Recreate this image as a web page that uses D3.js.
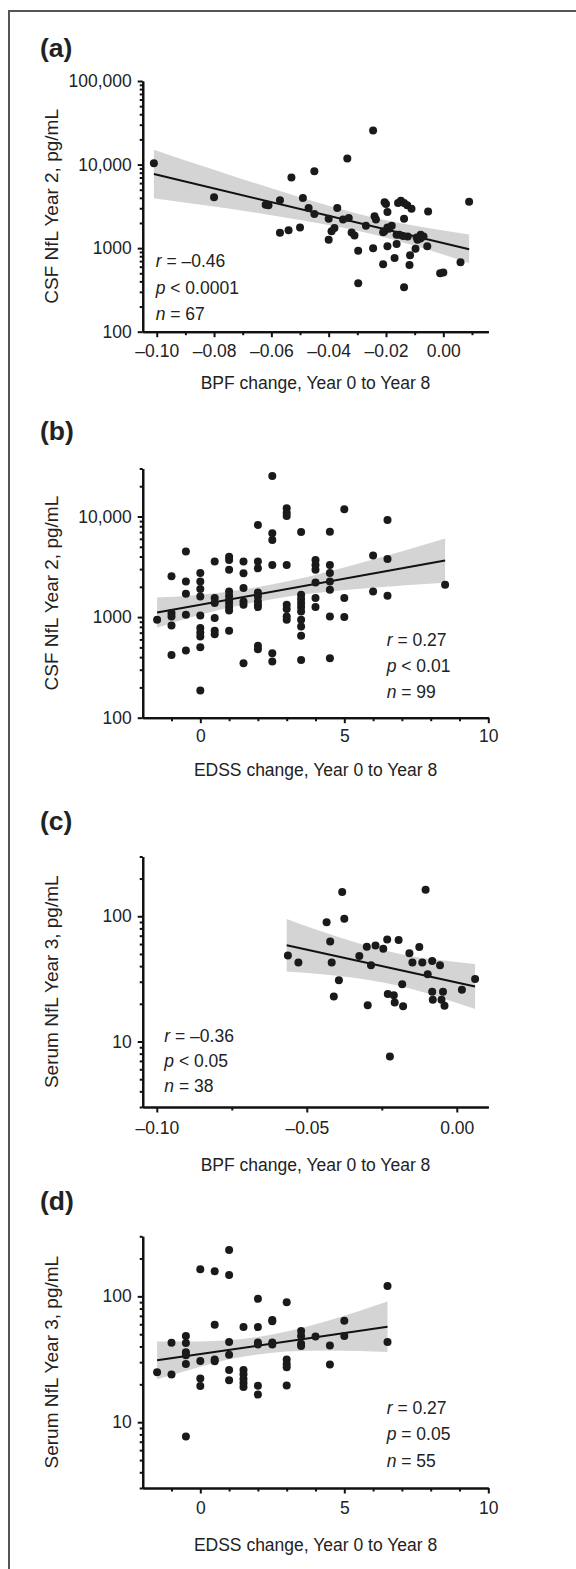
<!DOCTYPE html>
<html><head><meta charset="utf-8">
<script src="https://cdn.jsdelivr.net/npm/d3@7"></script>
<style>
body{margin:0;background:#fff}
svg{display:block}
text{font-family:'Liberation Sans',Arial,Helvetica,sans-serif;fill:#222}
</style>
</head><body>
<svg id="chart" width="576" height="1569"></svg>
<script>
// ---------- Panel (a): BPF change vs CSF NfL Year 2 ----------
const aBPF = [-0.101,-0.080,-0.062,-0.061,-0.057,-0.057,-0.054,-0.053,-0.050,-0.049,-0.047,-0.045,-0.045,-0.040,-0.039,-0.038,-0.040,-0.037,-0.0335,-0.035,-0.033,-0.032,-0.031,-0.0297,-0.0297,-0.027,-0.0245,-0.0245,-0.024,-0.0235,-0.021,-0.0205,-0.020,-0.0195,-0.0206,-0.0195,-0.019,-0.0195,-0.017,-0.0163,-0.0163,-0.0153,-0.0158,-0.0148,-0.0137,-0.0126,-0.0111,-0.0137,-0.0137,-0.0124,-0.0116,-0.0118,-0.0097,-0.0093,-0.0079,-0.0069,-0.0090,-0.0056,-0.0053,-0.0011,0.000,0.006,0.009,-0.021,-0.008,-0.014,-0.018];
const aNfL = [10400,4050,3300,3250,3750,1530,1640,7000,1770,3980,3020,8300,2560,1260,1590,1740,2250,3020,11800,2200,2290,1540,1420,930,380,1850,25600,1000,2400,2200,640,3530,3370,2700,1590,1770,1710,1050,760,1120,1450,1450,3470,3700,3470,3250,2970,2250,340,1380,820,630,980,1340,1450,1380,1260,1050,2750,500,510,680,3600,1550,1300,1400,1850];
const aFitX = [-0.101, 0.009];
const aFitY = [7700, 970];
const aBandX = [-0.101,-0.08,-0.06,-0.04,-0.025,-0.01,0.009];
const aBandHi = [15070,8650,5190,3210,2340,1850,1455];
const aBandLo = [3960,3140,2480,1890,1480,1070,665];
const aXTicks = [-0.10,-0.08,-0.06,-0.04,-0.02,0.00];
const aXTickLabels = ["\u20130.10","\u20130.08","\u20130.06","\u20130.04","\u20130.02","0.00"];
const aXMinor = [-0.09,-0.07,-0.05,-0.03,-0.01,0.01];
const aYTicks = [100,1000,10000,100000];
const aYTickLabels = ["100","1000","10,000","100,000"];
const aStats = [["r"," = \u20130.46"],["p"," < 0.0001"],["n"," = 67"]];

// ---------- Panel (b): EDSS change vs CSF NfL Year 2 ----------
const bEDSS = [-1.5,
 -1,-1,-1,-1,-1,
 -0.5,-0.5,-0.5,-0.5,-0.5,
 0,0,0,0,0,0,0,0,0,0,
 0.5,0.5,0.5,0.5,0.5,0.5,
 1,1,1,1,1,1,1,1,1,1,
 1.5,1.5,1.5,1.5,1.5,1.5,
 2,2,2,2,2,2,2,2,2,2,
 2.5,2.5,2.5,2.5,2.5,2.5,
 3,3,3,3,3,3,3,3,
 3.5,3.5,3.5,3.5,3.5,3.5,3.5,3.5,3.5,3.5,
 4,4,4,4,4,4,
 4.5,4.5,4.5,4.5,4.5,4.5,4.5,
 5,5,5,
 6,6,
 6.5,6.5,6.5,
 8.5];
const bNfL = [940,
 2540,1096,1014,825,421,
 4480,2260,1705,1054,466,
 2740,2260,1900,1605,1038,777,703,641,502,186,
 3565,1546,1378,977,730,677,
 3990,3700,2950,1800,1630,1487,1378,1258,1163,730,
 3565,2735,1950,1430,1326,348,
 8240,3565,3060,1760,1605,1430,1326,1258,518,480,
 25200,6810,5850,3300,438,361,
 12060,10900,10100,3300,1326,1201,1014,940,
 7020,1667,1511,1378,1258,1137,940,806,652,375,
 3700,3300,2950,2210,1546,1258,
 7060,3300,2740,2260,1870,1014,390,
 11800,1546,1000,
 4090,1800,
 9240,3780,1630,
 2100];
const bFitX = [-1.5, 8.5];
const bFitY = [1110, 3650];
const bBandX = [-1.5,0,1.5,3,4.5,6,8.5];
const bBandHi = [1567,1671,1884,2254,2851,3741,6053];
const bBandLo = [785,1054,1334,1596,1799,1963,2198];
const bXTicks = [0,5,10];
const bXTickLabels = ["0","5","10"];
const bXMinor = [-1,1,2,3,4,6,7,8,9];
const bYTicks = [100,1000,10000];
const bYTickLabels = ["100","1000","10,000"];
const bStats = [["r"," = 0.27"],["p"," < 0.01"],["n"," = 99"]];

// ---------- Panel (c): BPF change vs Serum NfL Year 3 ----------
const cBPF = [-0.0563,-0.0528,-0.0434,-0.0382,-0.0375,-0.0422,-0.0417,-0.0393,-0.041,-0.0325,-0.030,-0.0286,-0.0297,-0.0271,-0.0245,-0.0232,-0.023,-0.021,-0.0207,-0.0223,-0.0194,-0.0182,-0.0179,-0.0158,-0.0148,-0.0125,-0.0115,-0.0104,-0.0097,-0.0082,-0.0056,-0.0082,-0.008,-0.0046,-0.0051,-0.0041,0.0017,0.0061];
const cNfL = [48.7,42.7,89.6,156,95.7,63,42.7,30.8,22.9,48.2,57.1,40.6,19.5,58.5,55,65.3,23.9,23.4,20.5,7.6,64.6,28.7,19.1,50.6,42.7,56.8,42.7,163,34.4,44,40.6,25,21.5,25,21.5,19.3,25.9,31.5];
const cFitX = [-0.0567, 0.0061];
const cFitY = [58.7, 27.5];
const cBandX = [-0.0567,-0.045,-0.035,-0.025,-0.015,-0.005,0.0061];
const cBandHi = [95.3,75.5,63.1,54.1,47.9,44.5,41.6];
const cBandLo = [36.2,34.5,32.4,29.7,26.3,22.3,18.2];
const cXTicks = [-0.10,-0.05,0.00];
const cXTickLabels = ["\u20130.10","\u20130.05","0.00"];
const cXMinor = [-0.075,-0.025];
const cYTicks = [10,100];
const cYTickLabels = ["10","100"];
const cStats = [["r"," = \u20130.36"],["p"," < 0.05"],["n"," = 38"]];

// ---------- Panel (d): EDSS change vs Serum NfL Year 3 ----------
const dEDSS = [-1.5,
 -1,-1,
 -0.5,-0.5,-0.5,-0.5,-0.5,-0.5,
 0,0,0,0,
 0.5,0.5,0.5,0.5,
 1,1,1,1,1,1,
 1.5,1.5,1.5,1.5,1.5,1.5,
 2,2,2,2,2,2,
 2.5,2.5,2.5,2.5,
 3,3,3,3,3,
 3.5,3.5,3.5,3.5,
 4,
 4.5,4.5,
 5,5,
 6.5,6.5];
const dNfL = [24.9,
 42.7,23.9,
 48.3,42.5,36,34,29,7.7,
 164,30.6,22.2,19.4,
 158,59.5,31.5,30.5,
 234,148,43.3,34.4,26,21.5,
 57,26,24,22,20.5,19,
 95.5,57,43,41.5,19.5,16.6,
 65,63.3,43,41.5,
 89.6,31.5,29,27.3,19.6,
 53,48.3,42,40.3,
 48,
 40.6,28.8,
 64,48.3,
 121,43.3];
const dFitX = [-1.5, 6.5];
const dFitY = [31, 57.3];
const dBandX = [-1.5,0,1,2,3,4.5,6.5];
const dBandHi = [43.8,43.8,44.7,47.6,52.6,64.7,90.8];
const dBandLo = [21.9,27.6,31.6,34.5,36.4,37.2,36.1];
const dXTicks = [0,5,10];
const dXTickLabels = ["0","5","10"];
const dXMinor = [-1,1,2,3,4,6,7,8,9];
const dYTicks = [10,100];
const dYTickLabels = ["10","100"];
const dStats = [["r"," = 0.27"],["p"," = 0.05"],["n"," = 55"]];

const csfTitle = "CSF NfL Year 2, pg/mL";
const serumTitle = "Serum NfL Year 3, pg/mL";
const bpfTitle = "BPF change, Year 0 to Year 8";
const edssTitle = "EDSS change, Year 0 to Year 8";

// ---------- layout ----------
const svg = d3.select("#chart");
const AX_L = 142.7, AX_R = 488.3;

// outer frame (open on right and bottom)
svg.append("path").attr("d","M9,1575 V11 H590").attr("fill","none").attr("stroke","#555").attr("stroke-width",2);

const panels = [
 {label:"(a)", labelY:57, xs:aBPF, ys:aNfL, fitX:aFitX, fitY:aFitY, bandX:aBandX, bandHi:aBandHi, bandLo:aBandLo,
  xDomain:[-0.1049,0.0157], yDomain:[100,100000], yRange:[331.7,81],
  xTicks:aXTicks, xLabels:aXTickLabels, xMinor:aXMinor, yTicks:aYTicks, yLabels:aYTickLabels,
  xPad:13, xTitle:bpfTitle, xTitleY:389, yTitle:csfTitle, stats:aStats, statsX:155.7, statsY:[266.5,294,320]},
 {label:"(b)", labelY:440, xs:bEDSS, ys:bNfL, fitX:bFitX, fitY:bFitY, bandX:bBandX, bandHi:bBandHi, bandLo:bBandLo,
  xDomain:[-2,10], yDomain:[100,30000], yRange:[717.7,468.5],
  xTicks:bXTicks, xLabels:bXTickLabels, xMinor:bXMinor, yTicks:bYTicks, yLabels:bYTickLabels,
  xPad:12, xTitle:edssTitle, xTitleY:776, yTitle:csfTitle, stats:bStats, statsX:386.7, statsY:[646,672,698.3]},
 {label:"(c)", labelY:830, xs:cBPF, ys:cNfL, fitX:cFitX, fitY:cFitY, bandX:cBandX, bandHi:cBandHi, bandLo:cBandLo,
  xDomain:[-0.1047,0.0105], yDomain:[3,300], yRange:[1107,856.5],
  xTicks:cXTicks, xLabels:cXTickLabels, xMinor:cXMinor, yTicks:cYTicks, yLabels:cYTickLabels,
  xPad:15, xTitle:bpfTitle, xTitleY:1170.5, yTitle:serumTitle, stats:cStats, statsX:164.3, statsY:[1041.7,1067.3,1092.3]},
 {label:"(d)", labelY:1210, xs:dEDSS, ys:dNfL, fitX:dFitX, fitY:dFitY, bandX:dBandX, bandHi:dBandHi, bandLo:dBandLo,
  xDomain:[-2,10], yDomain:[3,300], yRange:[1488,1236.3],
  xTicks:dXTicks, xLabels:dXTickLabels, xMinor:dXMinor, yTicks:dYTicks, yLabels:dYTickLabels,
  xPad:14, xTitle:edssTitle, xTitleY:1551, yTitle:serumTitle, stats:dStats, statsX:386.7, statsY:[1414,1440,1466.7]}
];

function styleAxis(sel){
  sel.select("path.domain").attr("stroke","#111").attr("stroke-width",2.2);
  sel.selectAll(".tick line").attr("stroke","#111").attr("stroke-width",2);
  sel.selectAll(".tick text").attr("font-size","17.5px").attr("fill","#222")
     .attr("font-family","'Liberation Sans',Arial,sans-serif");
}

panels.forEach(p => {
  const g = svg.append("g");
  const x = d3.scaleLinear().domain(p.xDomain).range([AX_L, AX_R]);
  const y = d3.scaleLog().domain(p.yDomain).range(p.yRange);

  // confidence band
  const area = d3.area().x(d => x(d[0])).y0(d => y(d[1])).y1(d => y(d[2])).curve(d3.curveMonotoneX);
  g.append("path").datum(d3.zip(p.bandX, p.bandLo, p.bandHi)).attr("d", area).attr("fill", "#d4d4d4");

  // regression line
  const line = d3.line().x(d => x(d[0])).y(d => y(d[1]));
  g.append("path").datum(d3.zip(p.fitX, p.fitY)).attr("d", line)
    .attr("fill","none").attr("stroke","#111").attr("stroke-width",2);

  // points
  g.append("g").selectAll("circle").data(d3.zip(p.xs, p.ys)).join("circle")
    .attr("cx", d => x(d[0])).attr("cy", d => y(d[1])).attr("r", 4).attr("fill", "#1a1a1a");

  // y axis: minor + major
  const yMinor = y.ticks().filter(v => !p.yTicks.some(t => Math.abs(t - v) < 1e-9));
  g.append("g").attr("transform", `translate(${AX_L},0)`)
    .call(d3.axisLeft(y).tickValues(yMinor).tickSize(3).tickSizeOuter(0).tickFormat(""))
    .call(styleAxis);
  g.append("g").attr("transform", `translate(${AX_L},0)`)
    .call(d3.axisLeft(y).tickValues(p.yTicks).tickSize(5).tickPadding(6).tickSizeOuter(0)
      .tickFormat((d, i) => p.yLabels[i]))
    .call(styleAxis);

  // x axis: minor + major
  const axY = p.yRange[0];
  g.append("g").attr("transform", `translate(0,${axY})`)
    .call(d3.axisBottom(x).tickValues(p.xMinor).tickSize(3.5).tickSizeOuter(0).tickFormat(""))
    .call(styleAxis);
  g.append("g").attr("transform", `translate(0,${axY})`)
    .call(d3.axisBottom(x).tickValues(p.xTicks).tickSize(5.5).tickPadding(p.xPad - 5.5).tickSizeOuter(0)
      .tickFormat((d, i) => p.xLabels[i]))
    .call(styleAxis);

  // titles
  g.append("text").attr("x", (AX_L + AX_R) / 2).attr("y", p.xTitleY).attr("text-anchor","middle")
    .attr("font-size","17.5px").text(p.xTitle);
  const cy = (p.yRange[0] + p.yRange[1]) / 2;
  g.append("text").attr("transform", `translate(58,${cy}) rotate(-90)`).attr("text-anchor","middle")
    .attr("font-size","19px").text(p.yTitle);

  // panel label
  g.append("text").attr("x", 40).attr("y", p.labelY).attr("font-size","26.5px").attr("font-weight","bold")
    .attr("fill","#1a1a1a").text(p.label);

  // stats
  p.stats.forEach((s, i) => {
    const t = g.append("text").attr("x", p.statsX).attr("y", p.statsY[i]).attr("font-size","17.5px");
    t.append("tspan").attr("font-style","italic").text(s[0]);
    t.append("tspan").text(s[1]);
  });
});
</script>
</body></html>
